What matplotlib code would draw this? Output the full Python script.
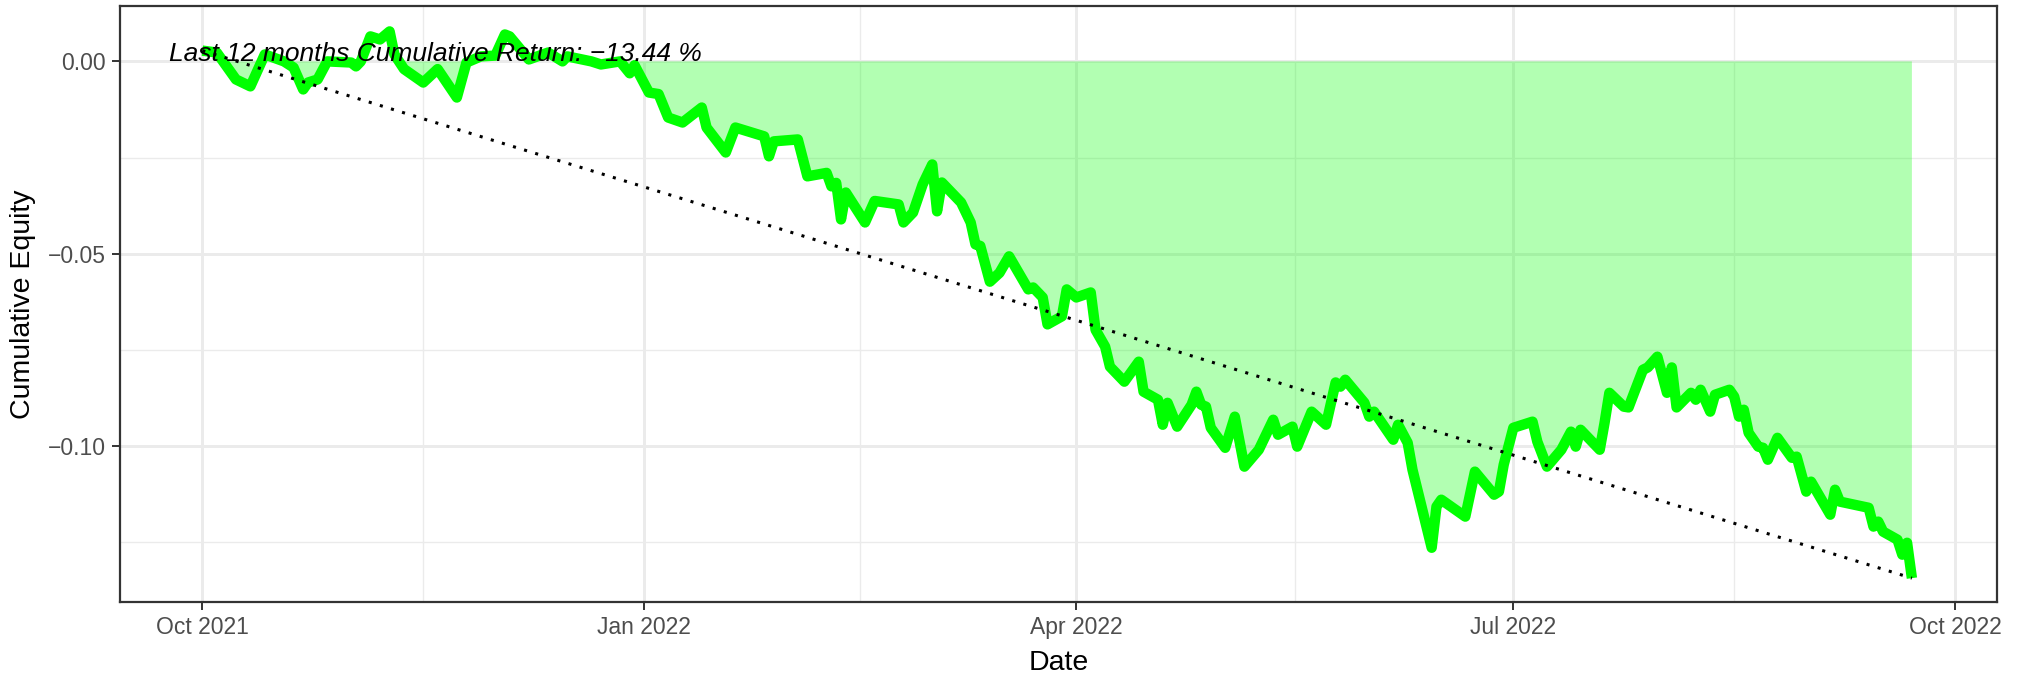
import matplotlib
matplotlib.use("Agg")
import matplotlib.pyplot as plt
import matplotlib.dates as mdates
from matplotlib.ticker import FuncFormatter, FixedLocator
import numpy as np
import pandas as pd

plt.rcParams['font.family'] = ['Liberation Sans', 'DejaVu Sans']

# cumulative equity
dates = [
    "2021-10-01", "2021-10-04", "2021-10-08", "2021-10-11", "2021-10-14", "2021-10-18",
    "2021-10-20", "2021-10-22", "2021-10-23", "2021-10-25", "2021-10-27", "2021-11-01",
    "2021-11-02", "2021-11-03", "2021-11-05", "2021-11-07", "2021-11-09", "2021-11-10",
    "2021-11-12", "2021-11-16", "2021-11-19", "2021-11-23", "2021-11-25", "2021-11-28",
    "2021-12-01", "2021-12-03", "2021-12-04", "2021-12-08", "2021-12-12", "2021-12-15",
    "2021-12-16", "2021-12-21", "2021-12-23", "2021-12-27", "2021-12-29", "2021-12-30",
    "2022-01-02", "2022-01-04", "2022-01-06", "2022-01-09", "2022-01-13", "2022-01-14",
    "2022-01-18", "2022-01-20", "2022-01-26", "2022-01-27", "2022-01-28", "2022-02-02",
    "2022-02-04", "2022-02-08", "2022-02-09", "2022-02-10", "2022-02-11", "2022-02-12",
    "2022-02-16", "2022-02-18", "2022-02-23", "2022-02-24", "2022-02-26", "2022-02-28",
    "2022-03-02", "2022-03-03", "2022-03-04", "2022-03-08", "2022-03-10", "2022-03-11",
    "2022-03-12", "2022-03-14", "2022-03-16", "2022-03-18", "2022-03-22", "2022-03-23",
    "2022-03-25", "2022-03-26", "2022-03-29", "2022-03-30", "2022-04-01", "2022-04-04",
    "2022-04-05", "2022-04-07", "2022-04-08", "2022-04-11", "2022-04-14", "2022-04-15",
    "2022-04-18", "2022-04-19", "2022-04-20", "2022-04-22", "2022-04-25", "2022-04-26",
    "2022-04-27", "2022-04-28", "2022-04-29", "2022-05-02", "2022-05-04", "2022-05-06",
    "2022-05-09", "2022-05-12", "2022-05-13", "2022-05-16", "2022-05-17", "2022-05-20",
    "2022-05-23", "2022-05-25", "2022-05-26", "2022-05-27", "2022-05-31", "2022-06-01",
    "2022-06-02", "2022-06-06", "2022-06-07", "2022-06-09", "2022-06-10", "2022-06-14",
    "2022-06-15", "2022-06-16", "2022-06-21", "2022-06-23", "2022-06-27", "2022-06-28",
    "2022-06-29", "2022-07-01", "2022-07-05", "2022-07-06", "2022-07-08", "2022-07-11",
    "2022-07-13", "2022-07-14", "2022-07-15", "2022-07-19", "2022-07-20", "2022-07-21",
    "2022-07-24", "2022-07-25", "2022-07-26", "2022-07-28", "2022-07-29", "2022-07-31",
    "2022-08-02", "2022-08-03", "2022-08-04", "2022-08-07", "2022-08-08", "2022-08-09",
    "2022-08-11", "2022-08-12", "2022-08-15", "2022-08-16", "2022-08-17", "2022-08-18",
    "2022-08-19", "2022-08-21", "2022-08-22", "2022-08-23", "2022-08-25", "2022-08-28",
    "2022-08-29", "2022-08-31", "2022-09-01", "2022-09-05", "2022-09-06", "2022-09-07",
    "2022-09-13", "2022-09-14", "2022-09-15", "2022-09-16", "2022-09-19", "2022-09-20",
    "2022-09-21", "2022-09-22",
]
equity = [
    0.0028, 0.0023, -0.0047, -0.0065, 0.0018, 0.0000,
    -0.0016, -0.0073, -0.0055, -0.0047, 0.0000, -0.0003,
    -0.0013, 0.0000, 0.0065, 0.0057, 0.0078, 0.0018,
    -0.0020, -0.0055, -0.0020, -0.0094, -0.0003, 0.0013,
    0.0015, 0.0070, 0.0065, 0.0005, 0.0023, 0.0000,
    0.0013, 0.0000, -0.0008, 0.0000, -0.0031, -0.0010,
    -0.0081, -0.0085, -0.0146, -0.0159, -0.0120, -0.0172,
    -0.0237, -0.0172, -0.0195, -0.0247, -0.0208, -0.0203,
    -0.0299, -0.0290, -0.0325, -0.0316, -0.0411, -0.0341,
    -0.0419, -0.0363, -0.0372, -0.0419, -0.0393, -0.0320,
    -0.0268, -0.0390, -0.0315, -0.0367, -0.0419, -0.0476,
    -0.0480, -0.0573, -0.0550, -0.0507, -0.0593, -0.0588,
    -0.0614, -0.0684, -0.0663, -0.0593, -0.0614, -0.0601,
    -0.0698, -0.0742, -0.0794, -0.0833, -0.0781, -0.0859,
    -0.0880, -0.0945, -0.0888, -0.0950, -0.0893, -0.0859,
    -0.0893, -0.0898, -0.0953, -0.1005, -0.0924, -0.1054,
    -0.1010, -0.0932, -0.0971, -0.0950, -0.1002, -0.0911,
    -0.0945, -0.0835, -0.0846, -0.0828, -0.0888, -0.0924,
    -0.0911, -0.0984, -0.0945, -0.0992, -0.1062, -0.1265,
    -0.1158, -0.1140, -0.1184, -0.1067, -0.1127, -0.1119,
    -0.1049, -0.0953, -0.0937, -0.0989, -0.1054, -0.1010,
    -0.0963, -0.1002, -0.0958, -0.1010, -0.0940, -0.0862,
    -0.0898, -0.0900, -0.0867, -0.0802, -0.0796, -0.0768,
    -0.0862, -0.0796, -0.0900, -0.0862, -0.0880, -0.0854,
    -0.0911, -0.0867, -0.0854, -0.0872, -0.0924, -0.0906,
    -0.0966, -0.1002, -0.1005, -0.1036, -0.0979, -0.1031,
    -0.1028, -0.1119, -0.1093, -0.1179, -0.1114, -0.1145,
    -0.1161, -0.1210, -0.1197, -0.1223, -0.1244, -0.1283,
    -0.1252, -0.1344,
]
x_ticks = ["2021-10-01", "2022-01-01", "2022-04-01", "2022-07-01", "2022-10-01"]
y_ticks = [0.00, -0.05, -0.10]
y_minor = [-0.025, -0.075, -0.125]
total_return = -13.44

dt = pd.to_datetime(dates)
eq = np.array(equity)

fig = plt.figure(figsize=(20.22, 6.76), dpi=100)
ax = fig.add_axes([0.0593, 0.1095, 0.9283, 0.8816])
ax.set_axisbelow(True)

# area between the curve and zero, where it is under water
ax.fill_between(dt, eq, 0, where=eq < 0, interpolate=True,
                color='#00FF00', alpha=0.3, linewidth=0, zorder=2)
ax.plot(dt, eq, color='#00FF00', lw=7.5, solid_joinstyle='round',
        solid_capstyle='butt', zorder=3)
# straight line from first to last point
ax.plot([dt[0], dt[-1]], [eq[0], eq[-1]], color='black', lw=2.2,
        linestyle=(0, (1, 2.8)), zorder=4)

label = f"Last 12 months Cumulative Return: {total_return:.2f} %".replace('-', '\u2212')
ax.text(mdates.date2num(pd.Timestamp("2021-09-24")), 0.0, label, fontsize=19,
        style='italic', ha='left', va='baseline', zorder=5)

# axes in ggplot theme_bw look
xt = mdates.date2num(pd.to_datetime(x_ticks))
ax.xaxis.set_major_locator(FixedLocator(xt))
ax.xaxis.set_minor_locator(FixedLocator((xt[:-1] + xt[1:]) / 2))
ax.xaxis.set_major_formatter(mdates.DateFormatter('%b %Y'))
ax.yaxis.set_major_locator(FixedLocator(y_ticks))
ax.yaxis.set_minor_locator(FixedLocator(y_minor))
ax.yaxis.set_major_formatter(FuncFormatter(lambda v, p: f"{v:.2f}".replace('-', '\u2212')))
ax.set_xlim(mdates.date2num(pd.Timestamp("2021-09-13 20:00")),
            mdates.date2num(pd.Timestamp("2022-10-09 17:00")))
ax.set_ylim(-0.1406, 0.0144)

ax.grid(which='major', color='#EBEBEB', lw=2.1)
ax.grid(which='minor', color='#EBEBEB', lw=1.0)
for s in ax.spines.values():
    s.set_color('#333333')
    s.set_linewidth(1.6)
ax.tick_params(which='major', length=6, width=1.4, color='#333333',
               labelsize=16.5, labelcolor='#4D4D4D', pad=4)
ax.tick_params(which='minor', length=0)

ax.set_xlabel('Date', fontsize=20.5, labelpad=8)
ax.set_ylabel('Cumulative Equity', fontsize=20.5, labelpad=9)

fig.savefig('out.png', dpi=100, facecolor='white')
